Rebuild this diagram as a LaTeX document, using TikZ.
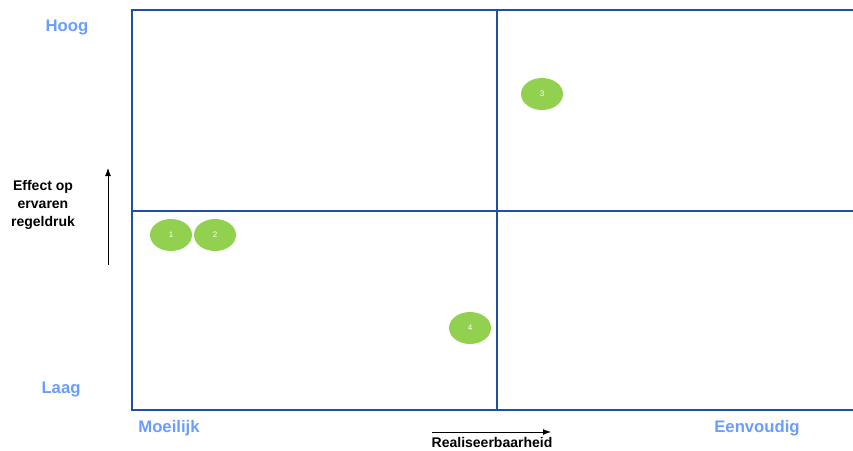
\documentclass[tikz,border=0pt]{standalone}
\usepackage{fontspec}
\setmainfont{Liberation Sans}
\usetikzlibrary{arrows.meta,shapes.geometric}
\definecolor{gridblue}{HTML}{2050A0}
\definecolor{lblblue}{HTML}{6B9CFF}
\definecolor{dotgreen}{HTML}{92D050}
\tikzset{
  gridline/.style={draw=gridblue, line width=1.3pt},
  axislbl/.style={text=lblblue, font=\fontsize{16.7}{18}\selectfont\bfseries, inner sep=0pt},
  titlelbl/.style={text=black, font=\fontsize{14}{18}\selectfont\bfseries, inner sep=0pt, align=center},
  dot/.style={ellipse, fill=dotgreen, minimum width=42pt, minimum height=32pt, inner sep=0pt, text=white, font=\fontsize{8}{9}\selectfont},
  axisarrow/.style={-{Latex[length=8pt,width=6pt]}, line width=0.9pt, black},
}
\begin{document}
\begin{tikzpicture}[x=1pt,y=-1pt]
\useasboundingbox (0,0) rectangle (853,450);
% quadrant frame
\coordinate (tl) at (132,10);
\coordinate (tr) at (853,10);
\coordinate (bl) at (132,410);
\coordinate (br) at (853,410);
\coordinate (vt) at (497,10);
\coordinate (vb) at (497,410);
\coordinate (hl) at (132,211);
\coordinate (hr) at (853,211);
\draw[gridline] (tr) -- (tl) -- (bl) -- (br);
\draw[gridline] (vt) -- (vb);
\draw[gridline] (hl) -- (hr);
% dots
\node[dot] (d1) at (171,235) {1};
\node[dot] (d2) at (215,235) {2};
\node[dot] (d3) at (542,94) {3};
\node[dot] (d4) at (470,328) {4};
% axis labels
\node[axislbl] (hoog) at (67,28) {Hoog};
\node[axislbl] (laag) at (61,390) {Laag};
\node[axislbl] (moeilijk) at (169,428) {Moeilijk};
\node[axislbl] (eenvoudig) at (757,428) {Eenvoudig};
\node[titlelbl] (effect) at (43,205) {Effect op\\ervaren\\regeldruk};
\node[titlelbl] (real) at (492,442) {Realiseerbaarheid};
% arrows
\coordinate (ya) at (108,265);
\coordinate (yb) at (108,168);
\coordinate (xa) at (432,432);
\coordinate (xb) at (551,432);
\draw[axisarrow] (ya) -- (yb);
\draw[axisarrow] (xa) -- (xb);
\end{tikzpicture}
\end{document}
